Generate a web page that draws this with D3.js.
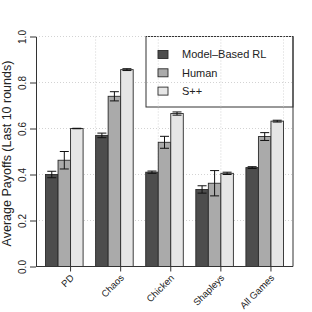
<!DOCTYPE html>
<html>
<head>
<meta charset="utf-8">
<script src="https://cdn.jsdelivr.net/npm/d3@7"></script>
<style>
  body { margin: 0; background: #fff; }
  text { font-family: "Liberation Sans", Arial, sans-serif; fill: #222; }
</style>
</head>
<body>
<div id="chart"></div>
<script>
// data
var games = ["PD", "Chaos", "Chicken", "Shapleys", "All Games"];
var series = ["Model\u2013Based RL", "Human", "S++"];
var rlValues = [0.400, 0.570, 0.410, 0.335, 0.430];
var rlErr = [0.014, 0.010, 0.005, 0.016, 0.004];
var humanValues = [0.462, 0.740, 0.540, 0.362, 0.565];
var humanErr = [0.038, 0.020, 0.026, 0.055, 0.017];
var sppValues = [0.600, 0.856, 0.665, 0.405, 0.632];
var sppErr = [0.001, 0.004, 0.007, 0.005, 0.004];
var yTicks = [0, 0.2, 0.4, 0.6, 0.8, 1.0];
var gridX = [5, 10, 15, 20]; // R's default grid positions in bar units

var colors = ["#4d4d4d", "#aaaaaa", "#e6e6e6"];

var width = 312, height = 312;
// note: "top" is taken by window.top, so prefix these
var pLeft = 36, pRight = 293, pTop = 36.5, pBottom = 266.5;

var svg = d3.select("#chart").append("svg")
    .attr("width", width)
    .attr("height", height);

var y = d3.scaleLinear().domain([0, 1]).range([pBottom, pTop]);

// R barplot: groups of 3 bars, one bar-width of space between groups
var x = d3.scaleBand()
    .domain(games)
    .range([pLeft, pRight])
    .paddingInner(0.25)
    .paddingOuter(0.19);
var xs = d3.scaleBand()
    .domain(series)
    .range([0, x.bandwidth()]);
var units = d3.scaleLinear().domain([0.24, 20.76]).range([pLeft, pRight]);

// flatten for drawing
var vals = [rlValues, humanValues, sppValues];
var errs = [rlErr, humanErr, sppErr];
var data = [];
games.forEach((g, gi) => {
    series.forEach((s, si) => {
        data.push({ game: g, s: s, si: si, v: vals[si][gi], e: errs[si][gi] });
    });
});

// legend box (grid shows through it)
var legX = 146, legW = pRight - 146, legH = 70.5;
svg.append("rect")
    .attr("x", legX).attr("y", pTop)
    .attr("width", legW).attr("height", legH)
    .attr("fill", "#fff")
    .attr("stroke", "#333")
    .attr("stroke-width", 1);

// grid
svg.append("g").selectAll("line")
    .data(yTicks.slice(1))
    .enter().append("line")
    .attr("x1", pLeft).attr("x2", pRight)
    .attr("y1", d => y(d)).attr("y2", d => y(d))
    .attr("stroke", "#d3d3d3")
    .attr("stroke-dasharray", "1,2");
svg.append("g").selectAll("line")
    .data(gridX)
    .enter().append("line")
    .attr("x1", d => units(d)).attr("x2", d => units(d))
    .attr("y1", pTop).attr("y2", pBottom)
    .attr("stroke", "#d3d3d3")
    .attr("stroke-dasharray", "1,2");

// bars
svg.append("g").selectAll("rect")
    .data(data)
    .enter().append("rect")
    .attr("x", d => x(d.game) + xs(d.s))
    .attr("width", xs.bandwidth())
    .attr("y", d => y(d.v))
    .attr("height", d => y(0) - y(d.v))
    .attr("fill", d => colors[d.si])
    .attr("stroke", "#2a2a2a")
    .attr("stroke-width", 0.9);

// error bars
var cap = 4.5;
var eb = svg.append("g").attr("stroke", "#111").attr("stroke-width", 1);
data.forEach(d => {
    var cx = x(d.game) + xs(d.s) + xs.bandwidth() / 2;
    eb.append("line").attr("x1", cx).attr("x2", cx)
        .attr("y1", y(d.v - d.e)).attr("y2", y(d.v + d.e));
    [d.v - d.e, d.v + d.e].forEach(t => {
        eb.append("line").attr("x1", cx - cap).attr("x2", cx + cap)
            .attr("y1", y(t)).attr("y2", y(t));
    });
});

// frame: bottom and right solid
var frame = svg.append("g").attr("stroke", "#333").attr("stroke-width", 1).attr("fill", "none");
frame.append("line").attr("x1", pLeft).attr("x2", pRight).attr("y1", pBottom).attr("y2", pBottom);
frame.append("line").attr("x1", pRight).attr("x2", pRight).attr("y1", pTop).attr("y2", pBottom);

// y axis
var yAxis = svg.append("g")
    .attr("transform", "translate(" + pLeft + ",0)")
    .call(d3.axisLeft(y).tickValues(yTicks).tickFormat(d3.format(".1f")).tickSize(6).tickSizeOuter(0));
yAxis.select(".domain").attr("stroke", "#333");
yAxis.selectAll(".tick line").attr("stroke", "#333");
yAxis.selectAll(".tick text")
    .attr("x", 0).attr("dy", 0)
    .attr("transform", "translate(-10,0) rotate(-90)")
    .attr("text-anchor", "middle")
    .style("font-size", "10px")
    .style("font-family", "Liberation Sans, Arial, sans-serif")
    .attr("fill", "#222");

svg.append("text")
    .attr("transform", "translate(10.5," + ((pTop + pBottom) / 2 + 2) + ") rotate(-90)")
    .attr("text-anchor", "middle")
    .style("font-size", "12.5px")
    .text("Average Payoffs (Last 10 rounds)");

// x axis, ticks sit between 2nd and 3rd bar of each group
var xAxis = svg.append("g")
    .attr("transform", "translate(" + (xs.bandwidth() / 2) + "," + pBottom + ")")
    .call(d3.axisBottom(x).tickSize(5).tickSizeOuter(0));
xAxis.select(".domain").remove();
xAxis.selectAll(".tick line").attr("stroke", "#333");
xAxis.selectAll(".tick text")
    .attr("y", 0).attr("dy", 0)
    .attr("transform", "translate(4,12) rotate(-45)")
    .attr("text-anchor", "end")
    .style("font-size", "9.5px")
    .style("font-family", "Liberation Sans, Arial, sans-serif")
    .attr("fill", "#222");

// legend entries
var leg = svg.append("g").selectAll("g")
    .data(series)
    .enter().append("g")
    .attr("transform", (d, i) => "translate(158," + (54.5 + i * 18.3) + ")");
leg.append("rect")
    .attr("x", 0).attr("y", -4)
    .attr("width", 10).attr("height", 8)
    .attr("fill", (d, i) => colors[i])
    .attr("stroke", "#2a2a2a")
    .attr("stroke-width", 0.9);
leg.append("text")
    .attr("x", 24).attr("dy", "0.35em")
    .style("font-size", "11px")
    .text(d => d);
</script>
</body>
</html>
